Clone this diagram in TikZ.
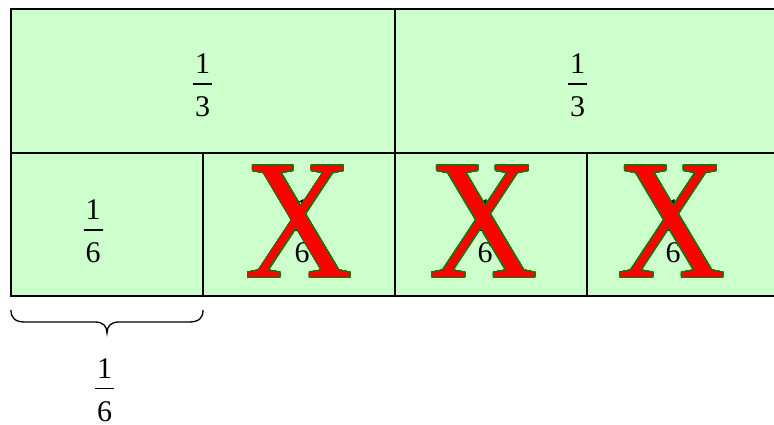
\documentclass[tikz,border=0pt]{standalone}
\usepackage{fontspec}
\setmainfont{Liberation Serif}
\usepackage{contour}
\contourlength{1.1pt}
\contournumber{32}
\definecolor{cellgreen}{HTML}{CCFFCC}
\definecolor{xgreen}{RGB}{0,128,0}
\newcommand\myfr[2]{\vbox{\hbox to 19pt{\hss#1\hss}\kern9.25pt\hrule height1.5pt width19pt\kern12pt\hbox to 19pt{\hss#2\hss}}}
\newcommand\bigx{\scalebox{0.88}[1]{\contour{xgreen}{X}}}
\tikzset{
  cell/.style={draw=black, line width=1.8pt, fill=cellgreen, inner sep=0pt},
  bigcell/.style={cell, minimum width=384pt, minimum height=144pt},
  smallcell/.style={cell, minimum width=192pt, minimum height=143pt},
  frac/.style={inner sep=0pt, font=\fontsize{30}{30}\selectfont},
  cross/.style={inner sep=0pt, text=red, font=\fontsize{170}{170}\selectfont},
  bracepath/.style={draw=black, line width=1.3pt}
}
\begin{document}
\begin{tikzpicture}[x=1pt,y=-1pt]
\useasboundingbox (0,0) rectangle (774,425);
\begin{scope}
\clip (0,0) rectangle (774,425);
\node[bigcell] (t1) at (203,81) {};
\node[bigcell] (t2) at (587,81) {};
\node[smallcell] (b1) at (107,224.5) {};
\node[smallcell] (b2) at (299,224.5) {};
\node[smallcell] (b3) at (491,224.5) {};
\node[smallcell] (b4) at (683,224.5) {};
\node[frac] (f1) at (202.5,85.5) {\myfr{1}{3}};
\node[frac] (f2) at (577.5,85.5) {\myfr{1}{3}};
\node[frac] (f3) at (93,231.5) {\myfr{1}{6}};
\node[frac] (f4) at (302,231.5) {\myfr{1}{6}};
\node[frac] (f5) at (485,231.5) {\myfr{1}{6}};
\node[frac] (f6) at (673,231.5) {\myfr{1}{6}};
\node[cross] (x1) at (299,222) {\bigx};
\node[cross] (x2) at (483.5,222) {\bigx};
\node[cross] (x3) at (671.5,222) {\bigx};
\end{scope}
\coordinate (bl) at (11,310);
\coordinate (br) at (203,310);
\coordinate (btip) at (107,333);
\draw[bracepath] (bl) .. controls (11,318) and (15,322) .. (25,322) -- (95,322)
  .. controls (103,322) and (107,326) .. (btip)
  .. controls (107,326) and (111,322) .. (119,322) -- (189,322)
  .. controls (199,322) and (203,318) .. (br);
\node[frac] (f7) at (104.5,390) {\myfr{1}{6}};
\end{tikzpicture}
\end{document}
